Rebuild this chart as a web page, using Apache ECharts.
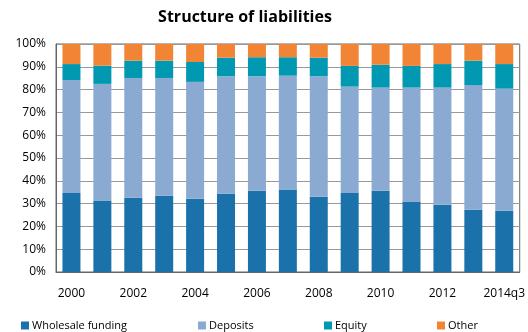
<!DOCTYPE html>
<html><head><meta charset="utf-8">
<script src="https://cdn.jsdelivr.net/npm/echarts@6/dist/echarts.min.js"></script>
<style>html,body{margin:0;padding:0;background:#fff}#c{width:528px;height:332px}</style>
</head><body><div id="c"></div>
<script>
const categories = ['2000','2001','2002','2003','2004','2005','2006','2007','2008','2009','2010','2011','2012','2013','2014q3'];
const wholesale = [34.7,31.4,32.6,33.4,32.1,34.3,35.6,36.2,33.0,34.7,35.6,30.9,29.5,27.3,26.9];
const deposits  = [49.5,51.1,52.5,51.7,51.3,51.5,50.2,49.9,52.8,46.6,45.3,50.0,51.4,54.7,53.5];
const equity    = [7.0,8.0,7.6,7.6,8.7,8.2,8.4,8.1,8.2,9.1,10.0,9.5,10.3,10.7,10.8];
const other     = [8.8,9.5,7.3,7.3,7.9,6.0,5.8,5.8,6.0,9.6,9.1,9.6,8.8,7.3,8.8];
const yTicks = [0,10,20,30,40,50,60,70,80,90,100];

const names = ['Wholesale funding','Deposits','Equity','Other'];
const colors = ['#1B72AA','#8AAAD2','#0099B1','#F28535'];
const values = [wholesale, deposits, equity, other];
const legendLeft = [16, 193, 319, 432];
const font = 'Open Sans';

const chart = echarts.init(document.getElementById('c'), null, {renderer:'canvas'});
chart.setOption({
  animation:false,
  title:{text:'Structure of liabilities', left:240, top:4, textAlign:'center',
    textStyle:{fontFamily:font, fontWeight:'bold', fontSize:16, color:'#000'}},
  legend: names.map((n,i)=>({data:[n], left:legendLeft[i], top:315, itemWidth:8, itemHeight:8,
    itemGap:4, icon:'rect', textStyle:{fontFamily:font, fontSize:11, color:'#000', padding:[0,0,0,-2]}})),
  grid:{left:56, right:6, top:44, bottom:60, show:true, borderColor:'#666', borderWidth:1},
  xAxis:{type:'category', data:categories,
    axisLine:{lineStyle:{color:'#666'}}, axisTick:{show:false},
    axisLabel:{interval:1, margin:16, fontFamily:font, fontSize:12, color:'#000'}},
  yAxis:{type:'value', min:0, max:100, interval:10,
    axisLine:{show:true, lineStyle:{color:'#666'}}, axisTick:{show:false},
    splitLine:{lineStyle:{color:'#999', width:1}},
    axisLabel:{margin:10, fontFamily:font, fontSize:12, color:'#000', formatter:v=>yTicks.includes(v)?v+'%':''}},
  series: names.map((n,i)=>({name:n, type:'bar', stack:'s', data:values[i], barWidth:18,
    itemStyle:{color:colors[i]}}))
});
</script></body></html>
